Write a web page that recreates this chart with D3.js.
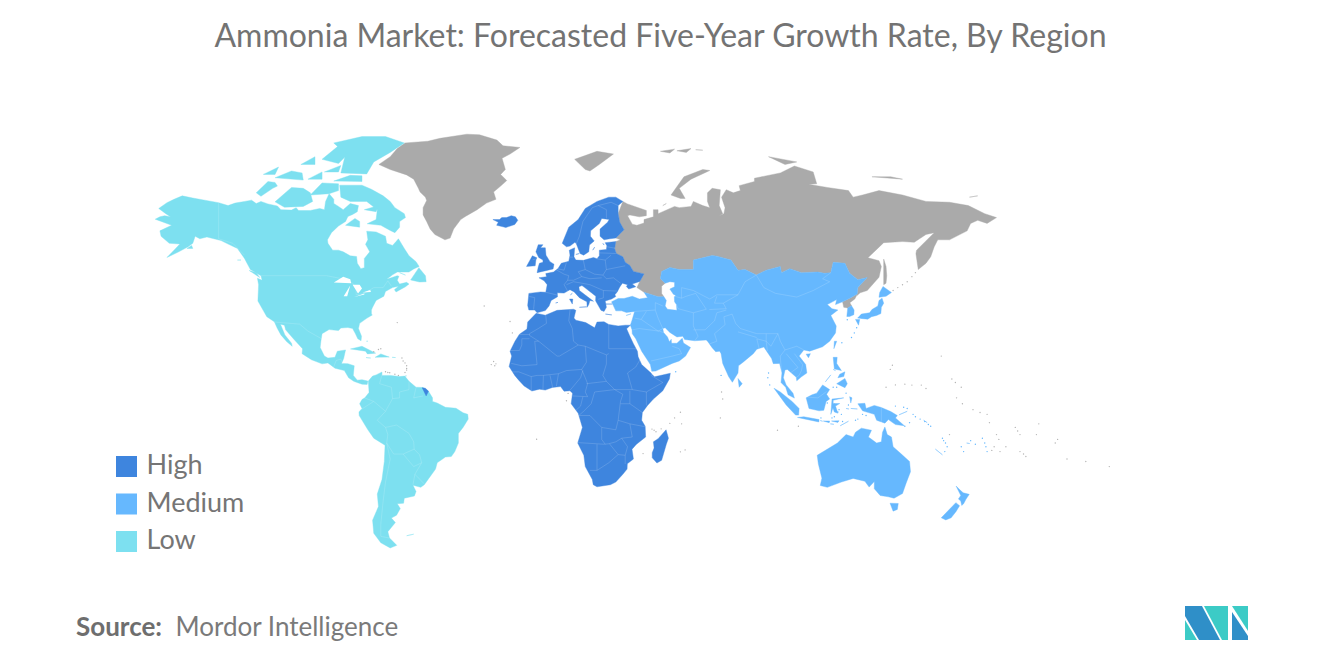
<!DOCTYPE html>
<html>
<head>
<meta charset="utf-8">
<title>Ammonia Market</title>
<script src="https://cdn.jsdelivr.net/npm/d3@7"></script>
<style>
  html, body { margin: 0; padding: 0; background: #fff; }
  svg { display: block; font-family: Lato, "Open Sans", sans-serif; }
</style>
</head>
<body>
<div id="chart-area"></div>
<script>
// chart text
var chartTitle = "Ammonia Market: Forecasted Five-Year Growth Rate, By Region";
var legendLabels = ["High", "Medium", "Low"];
var sourceLabel = "Source:";
var sourceName = "Mordor Intelligence";

// land outlines as [lon, lat]
var lowLand = [
  // north america mainland
  [[-168,65.6],[-166,66.2],[-164,66.5],[-161.5,66.2],[-163.5,67],[-166.5,68.3],[-163,69.7],[-160,70.5],[-156.5,71.3],[-152,70.8],[-148,70.4],[-141,69.7],[-137,69],[-134,69.6],[-130,70],[-127,70.3],[-125,69.5],[-123,70],[-120,69.4],[-116,68.9],[-114.5,68],[-110,67.9],[-108,68.5],[-107,67.8],[-102,67.8],[-98,68.3],[-96,68],[-95.5,70],[-94,71.8],[-92,70.5],[-92,69.5],[-90,68.8],[-88,68],[-85,69.5],[-81.5,69],[-82,67.5],[-84,66.8],[-86,66.3],[-87,65],[-90,63.8],[-93,62],[-94.7,60],[-94.5,59],[-92.5,57],[-90,57],[-88,56.5],[-85,55.3],[-82.3,55.1],[-82,53],[-80.5,51.3],[-79,51.6],[-79,54.5],[-76.7,56.5],[-78.5,58.7],[-77.5,60],[-78,62.4],[-74,62.2],[-70,61],[-69.5,59],[-67,58.4],[-65.5,59.5],[-64.5,60.3],[-62,57.5],[-60,55.3],[-57,53.5],[-55.7,52],[-58,51.2],[-60,50.2],[-65,50.2],[-67,49.3],[-69.5,47.8],[-65,49],[-64.3,48.8],[-65,47.5],[-64,46.2],[-61,46.8],[-60,46.2],[-61.5,45.3],[-65.5,43.5],[-66.2,44.3],[-64.5,45.5],[-67,45],[-70,43.7],[-70.7,42],[-74,40.5],[-75.5,38],[-76,37],[-76,35.5],[-75.6,35.2],[-78,33.9],[-81,32],[-81.5,30],[-80.2,27],[-80.4,25.2],[-81.8,26],[-82.8,28],[-84,30],[-86,30.4],[-89,30.2],[-90,29.2],[-94,29.6],[-97,28],[-97.5,25],[-97.8,22.5],[-96,19],[-94.5,18.2],[-91.5,18.5],[-90.5,21],[-87,21.5],[-87.8,18],[-88.7,16],[-86,15.9],[-83.3,15],[-83.7,11],[-82,9],[-80,9.2],[-77.5,8.6],[-77.8,7.2],[-80,7.3],[-81.5,7.8],[-83.5,8.5],[-85.7,10],[-87.5,13],[-91.5,14],[-94.5,16.2],[-97,15.8],[-101.5,17.5],[-105.5,20],[-105.3,22],[-109,25.8],[-112.5,29.5],[-113,31.3],[-114.7,31.7],[-112.8,27.5],[-110,24.2],[-109.7,23],[-112,24.8],[-114.5,27.5],[-116,30],[-117.3,32.6],[-120.5,34.5],[-122,36.8],[-124.3,40.3],[-124,46],[-124.5,48.2],[-122.5,47.5],[-123,49],[-127.5,51],[-130,54.5],[-133,57.5],[-137,58.8],[-140,59.8],[-146,60.8],[-149,60.3],[-151,61],[-152,59],[-154,58],[-158,56.5],[-163,54.8],[-160,57],[-157.5,58.8],[-162,59],[-165.5,61],[-166,62.5],[-161,64],[-165,64.5]],
  // arctic islands
  [[-80,73.7],[-76,72.8],[-71,71.3],[-68,70],[-66,68.5],[-62,67],[-61.5,66],[-64,65],[-64,63.5],[-66,62],[-68,62.6],[-72,64],[-77.8,64.4],[-74,65.5],[-73.5,68],[-78,70],[-85,70],[-89,71],[-89.5,73.7],[-85,73.5]],
  [[-117,69.9],[-113,68.6],[-105,68.8],[-101,70],[-102,72],[-105,73],[-110,73.2],[-118,72.8]],
  [[-125,72],[-123,71.2],[-118,73],[-116,73.5],[-117,74.3],[-120,74.5],[-124.5,74.2]],
  [[-87,64],[-81,63.5],[-81,65],[-83,65.8],[-86,66]],
  [[-117,75.3],[-105,74.8],[-105.5,76.3],[-110,76.7],[-116,76.7]],
  [[-102,71.5],[-94,71.8],[-90,72.5],[-90,74],[-97,74.2],[-100,73.5]],
  [[-92,74.6],[-80,74.5],[-80,75.7],[-85,75.8],[-92,76.6]],
  [[-89,76.3],[-78,76.1],[-75,78.5],[-68,80.3],[-62,82],[-70,83.1],[-80,83.1],[-92,82],[-87,80],[-90,78]],
  [[-97,79],[-90,78.2],[-86,80],[-90,81.5],[-96,81]],
  [[-103,75],[-97,75],[-97,76.5],[-104,76.7]],
  [[-122,76],[-117,76],[-115.5,77.5],[-120,77.5]],
  [[-106,78],[-100,78],[-100,79.5],[-104,79.5]],
  [[-96,76.5],[-90,76.5],[-89,77.8],[-96,77.8]],
  [[-79,68],[-74,67.5],[-73,69],[-77,69.5]],
  [[-59.3,47.6],[-55.5,46.9],[-52.7,47],[-53,49],[-55.8,51.6],[-57.5,50]],
  [[-128,50.7],[-125,50],[-123.5,48.4],[-125.5,48.8]],
  [[-133,54],[-131.5,54],[-131.5,52.5]],
  [[-64,50],[-61.5,49.2],[-64,49.1]],
  [[-154.5,57.5],[-152.5,58.4],[-152,57.5],[-154,56.8]],
  [[-84.9,21.9],[-80,23],[-74.2,20.2],[-77.7,19.9],[-78.5,21],[-82,22.3]],
  [[-74.4,18.5],[-72,19.9],[-68.4,18.6],[-71.5,17.7]],
  [[-78.3,18.4],[-76.3,18.2],[-77.2,17.8]],
  [[-67.2,18.5],[-65.7,18.4],[-67,18]],
  [[-78.1,25],[-77.5,25],[-77.7,24]],
  [[-61.7,10.7],[-61,10.8],[-61,10.1]],
  // south america
  [[-77.3,8.6],[-75.5,10.7],[-74,11.2],[-71.5,12.4],[-71.5,11],[-68,11],[-64,10.5],[-61.8,10.7],[-60,8.5],[-57,6],[-54,5.9],[-51.7,4.3],[-50,1.5],[-50,0],[-48,-0.7],[-44.5,-2.5],[-40,-2.9],[-37,-4.8],[-35,-5.5],[-34.8,-7.5],[-37,-11],[-39,-13.5],[-39,-17.5],[-40.5,-21],[-42,-23],[-44.5,-23.2],[-48,-25.5],[-48.7,-28],[-51.5,-31.5],[-53.5,-34],[-55,-35],[-58.3,-34.2],[-57,-36.5],[-57.7,-38.2],[-62,-39],[-62.3,-40.8],[-65,-41],[-63.7,-42.7],[-65.3,-45],[-67.5,-46],[-65.8,-47.5],[-69,-50.5],[-68.3,-52.5],[-65.2,-54.8],[-68,-55.6],[-72,-54],[-75,-51],[-75.5,-46.7],[-73,-42],[-73.5,-37.5],[-71.5,-32],[-70.5,-25],[-70.2,-18.4],[-75,-15.5],[-77.5,-12],[-81.2,-6],[-81.3,-4.5],[-80,-3],[-81,-1],[-80,0.8],[-78.8,1.5],[-77,3.8],[-77.5,7.2]],
  [[-61,-51.8],[-58,-51.3],[-58.5,-52.3]]
];

var highLand = [
  // africa
  [[-5.9,35.8],[-2,35.1],[3,36.9],[10,37.3],[11,36.9],[10.2,34],[11,33.2],[15.2,32.3],[19,30.3],[20,32.5],[23,32.6],[25,31.6],[29,31],[32,31.3],[34.2,31.3],[32.6,29.9],[34,27],[35.5,24],[37.2,21],[37.5,18.7],[39,15.5],[43,12],[43.3,11.5],[44.5,10.4],[51.2,11.9],[50.8,9.5],[48,4.5],[44,1],[41.5,-1.7],[39.3,-4.7],[39,-8],[40.5,-10.5],[40.7,-15],[36.8,-18],[34.9,-20],[35.5,-24],[32.9,-25.9],[32.8,-28],[31,-30],[28,-33],[25.7,-34],[20,-34.8],[18.4,-34],[18,-32],[15,-27],[14.4,-22.5],[11.8,-17.5],[13.8,-11],[12,-5],[9,-1],[9.6,3.5],[8.5,4.5],[6,4.3],[4.5,6.3],[1,5.9],[-2,4.8],[-4.5,5.2],[-7.7,4.4],[-11,6.5],[-13.3,9],[-15,11],[-17.4,14.7],[-16.3,19],[-17,21],[-14.9,25],[-13,27.8],[-9.8,29.8],[-9.5,32.5],[-6.7,34.2]],
  [[49.4,-12],[50.4,-15.5],[49.5,-18],[47.5,-24.5],[45.5,-25.6],[43.5,-23.5],[43.5,-21.5],[44.3,-19.5],[44,-17],[46,-15.7],[48,-13.5]],
  // europe
  [[-9,43],[-4,43.5],[-1.8,43.4],[-1.2,46],[-2.5,47.3],[-4.7,48.3],[-1.5,48.7],[-1.8,49.7],[1.5,50.2],[3.5,51.4],[4.8,53],[8,53.6],[8.5,55.5],[8.2,57],[10.5,57.7],[10.2,55],[11,54],[14.2,53.9],[18.5,54.8],[20,54.4],[21,55.3],[21,57],[24,57.2],[24.2,58.3],[23.5,59.2],[28,59.5],[27.5,57.5],[28.2,56],[31,55],[32,53.3],[34,52.3],[35.5,50.4],[40,49.6],[38.2,47.1],[35,46.2],[36.5,45.3],[33.5,44.5],[32.5,45.4],[33,46],[30.8,46.5],[29.7,45.2],[28.6,43.5],[27.6,42.5],[28,41.9],[26.2,41],[23.5,40.3],[24,38],[23,36.5],[21.7,36.9],[19.4,40.4],[19.5,42],[14.5,45.2],[13.6,45.7],[12.3,45.3],[12.5,44],[16,41.8],[18.5,40.2],[17,40.5],[16.5,39],[15.8,38],[15.7,40],[12.5,41.5],[10.3,43.5],[8.5,44.3],[6,43.1],[3.1,43.2],[3.2,41.8],[0.5,40.5],[-0.4,38.5],[-2,36.8],[-5.5,36],[-6.5,37],[-9,37],[-9.5,38.7],[-8.8,41.5]],
  // scandinavia
  [[5.2,59],[7,58],[8.5,58.2],[10.6,59.3],[11.2,58.9],[12.8,56],[14.3,55.5],[16.5,56.5],[16.8,58.5],[18.8,59.7],[17.2,61],[17.3,62.5],[21,64.5],[22,65.8],[25.2,65.5],[24.5,64.8],[21.3,63],[21.3,61],[23,60],[25.5,60.3],[28,60.5],[31.5,62.8],[29.7,64.8],[29,67],[29,69],[31,70],[28,71],[25,71],[20,70],[15,68.3],[12,65.5],[8,63.5],[5,62]],
  [[-5.5,50],[1.3,51.2],[1.7,52.7],[0,53.5],[-1.7,55.5],[-2,57.7],[-4,57.7],[-3,58.6],[-5,58.6],[-6,56.5],[-4.8,54.8],[-3,54],[-3,53.3],[-4.5,53],[-5,51.8],[-3,51.3]],
  [[-10,52],[-6.3,52.2],[-6,54],[-5.6,54.7],[-7.5,55.3],[-10,54.2]],
  [[-24.3,65.5],[-22,64.8],[-22.7,64],[-20,63.6],[-18.8,63.4],[-15,64.2],[-13.7,65.3],[-14.7,66.2],[-16.5,66.5],[-18.5,66],[-20.5,66],[-21.5,65.5],[-22.5,66.4]],
  [[12.5,38],[15.6,38.2],[15.1,36.7]],
  [[8.3,41],[9.7,41],[9.5,39.2],[8.5,39]],
  [[8.7,42.5],[9.5,43],[9.3,41.5]],
  [[23.6,35.5],[26.3,35.2],[24.8,34.9]],
  [[11,55.7],[12.5,56],[12.3,55]],
  [[18.2,57],[19,57.9],[18.7,57]],
  [[2.4,39.6],[3.4,39.8],[3,39.3]],
  [[22.5,59],[23,58.5],[22,58.3]],
  [[23.5,39.2],[26.5,39.2],[26,38.2]],
  // french guiana
  [[-54.4,5.8],[-53,5.6],[-51.7,4.3],[-52.7,2.3],[-54.4,2.3]]
];

var mediumLand = [
  // asia mainland
  [[26.2,40],[29,41.2],[31.5,41.2],[35,42],[38,41],[41.5,41.5],[40,43.4],[46,41.8],[48.5,41.8],[49.5,40.5],[49,38.5],[50,37.3],[54,36.9],[53.8,39],[53,40],[52.9,41.8],[53.5,42.3],[52.5,42.7],[51,44.5],[53,45.3],[53,46.8],[51,47],[49,46.5],[47,48],[47.5,50.4],[51,51.7],[55,51],[61,51],[61,54],[69,55.4],[71,55.2],[77,54],[80,50.8],[83,51],[87.8,49.2],[92,50.8],[98,52],[98.5,50],[102,51.3],[107,50],[114,50.2],[116.7,49.8],[119.5,50],[120.5,53.3],[125.5,53],[127.5,49.8],[131,47.7],[135,48.4],[131,45],[130.7,42.8],[128,41.5],[124.5,40],[121.5,39],[122,40.8],[118,39],[120,37.5],[122.5,37],[119.5,35],[121.8,31],[121.5,28.3],[119,25],[116,22.8],[110.5,21],[108,21.5],[106,19],[108.8,15.5],[109.3,12],[107,10.4],[105,8.7],[104.8,10.2],[102.5,12.2],[101,13.5],[100,13.3],[99.3,10],[100.5,7],[103.4,3.5],[104,1.4],[101.3,2.8],[100.3,6],[98.3,8],[98.7,12],[97.7,16],[95,15.9],[94.3,18],[92.2,21],[91,22.7],[88,21.8],[86.5,20],[82.3,16.6],[80.2,15],[80,12],[77.6,8.1],[76,10.5],[73.5,16],[72.8,20],[72.2,21],[70.5,20.8],[69,22.4],[67.2,24.8],[66.5,25.5],[61.6,25.2],[57.3,25.7],[56.5,27],[54,26.7],[51,28.5],[49,30.3],[48,30],[48.3,28.5],[50,26.7],[50.8,24.8],[51.6,25.8],[51.7,24.2],[54,24.2],[56.3,26.2],[56.8,24.3],[59.8,22.5],[57.7,19],[55,17],[52,16],[45,12.8],[43.3,12.7],[42.7,15.5],[39,21],[36.5,26],[35,28],[34.9,29.5],[34.2,31.3],[35,33.5],[36,36.5],[32.5,36.1],[30.5,36.7],[28,36.7],[26.5,38.5]],
  [[80,9.7],[81.8,7.5],[80.5,6],[79.8,7.5]],
  [[32.4,35],[34.5,35.6],[33.5,34.7]],
  // japan, korea, taiwan
  [[130.9,34],[132.5,35.5],[136,36],[137,37.2],[139.5,38.5],[140,40.5],[141.3,41.3],[142,39.5],[141,38],[140.8,35.7],[139,35],[136.8,34.5],[135.2,33.6],[133,34.2]],
  [[130,33.5],[131.8,33.5],[131.3,31.3],[130.2,31.3]],
  [[132.5,34],[134.5,34.2],[133.5,33]],
  [[140,41.6],[140.3,43.3],[141.7,45.4],[145.3,43.3],[143,42],[141,42.5]],
  [[126.7,37.8],[128.3,38.6],[129.4,37],[129.3,35.3],[127.5,34.6],[126.3,34.6],[126.6,36.7]],
  [[121,25],[122,25],[120.8,22],[120.2,23]],
  [[109,19.8],[110.8,20],[110,18.3],[108.7,18.8]],
  // south east asia
  [[120.5,18.5],[122.2,18.5],[122,16],[124,13],[121,13.7],[120,16]],
  [[122,7.5],[125.5,9.7],[126.5,7.5],[125.5,5.8],[124,6.5]],
  [[117.2,8.3],[119.5,11.2],[119,10]],
  [[122.5,10],[123.3,11.5],[125.5,12.5],[125,10.5],[123.5,9.5]],
  [[120.5,13.5],[121.5,13],[121,12.3]],
  [[109,1.5],[111.5,2.8],[113.5,3.5],[116,7],[119,5],[117.7,3],[119,1],[117.5,0],[116.5,-3.8],[114.5,-4],[110.2,-3],[109,0]],
  [[95.3,5.6],[98,4],[103,0],[106,-3],[105.8,-5.8],[104.5,-5.8],[100.5,-1.5],[97,3]],
  [[105.3,-6.8],[108,-6.5],[114.5,-7.7],[114.4,-8.7],[108,-7.8]],
  [[119.5,-5.5],[120.4,-2.8],[121,-4.5],[122.5,-5],[121.5,-2],[123.3,-0.9],[120.5,-0.9],[120.5,0.5],[125,1.5],[120,1],[119,-2]],
  [[127.5,2],[128.5,1.5],[128,-0.7],[127.7,0.5]],
  [[128,-3],[130.8,-3.2],[129.5,-3.5]],
  [[126,-3],[127.2,-3.2],[126.5,-3.8]],
  [[115,-8.1],[116,-8.4],[115,-8.8]],
  [[116.3,-8.3],[119,-8.3],[118.8,-9],[116.3,-9]],
  [[119.8,-8.3],[123,-8.2],[122.5,-8.9],[120,-8.9]],
  [[119.3,-9.5],[120.8,-9.7],[120.3,-10.2]],
  [[123.5,-10.3],[127,-8.4],[125,-9.5]],
  [[131,-1],[134,-0.8],[134.5,-3],[138,-1.7],[141,-2.6],[145,-4.3],[147.8,-6],[147,-7],[150.8,-10.3],[147,-9.8],[144,-7.7],[142.5,-9.2],[139,-8],[138,-5.5],[133,-4],[132,-2.5]],
  [[148.5,-5.7],[152,-4.2],[151.5,-5.7]],
  [[159,-8],[160.5,-9],[159.8,-9.5]],
  [[164,-20],[167,-22.3],[166,-22.2]],
  [[177.3,-17.5],[178.6,-17.7],[178,-18.3]],
  // australia and new zealand
  [[113.7,-22.5],[114.2,-26],[115.7,-31.5],[115,-34.3],[118,-35],[124,-33],[129,-31.6],[134,-32.7],[135.8,-34.9],[138,-32.8],[138,-35.5],[140.5,-38],[144,-38.5],[146.4,-39],[150,-37.3],[151.5,-33.5],[153.4,-29],[153,-25],[149.5,-22],[146,-19],[145.3,-15],[143.5,-14],[142.5,-10.8],[141.5,-13],[141,-17],[139,-17.5],[135.5,-15],[136.8,-12.2],[132.5,-11.3],[130,-13],[129,-15],[126,-14],[122.3,-17.5],[119,-20]],
  [[144.7,-40.8],[148.2,-40.9],[147.8,-43],[146,-43.6],[145.3,-42]],
  [[172.8,-34.5],[174.5,-36],[175.8,-37],[178.4,-37.6],[177,-39.4],[176,-41],[175.2,-41.6],[174.8,-40],[173.8,-39.3],[174.8,-38],[174.5,-36.8]],
  [[172.7,-40.6],[174.3,-41.7],[172.8,-43.7],[170.7,-45.9],[168.4,-46.6],[166.5,-45.9],[170,-43]]
];

var noDataLand = [
  // greenland
  [[-72.8,78],[-68,77],[-61,75.9],[-58,75],[-56,73],[-55.3,72.2],[-53,71],[-52.5,70.2],[-54,68.5],[-54,66.7],[-52.5,65],[-51,63],[-49,61.5],[-44.7,60],[-42.5,60.5],[-41,63],[-38,65.5],[-36,66.3],[-31,68],[-27,69.6],[-23,70.5],[-24,72.2],[-21,73.5],[-18.4,74.7],[-21,76],[-19,77],[-20.4,79.2],[-17,80],[-12.8,81.2],[-20,81.5],[-22.6,82.5],[-30,83.4],[-35.4,83.5],[-46.8,82.8],[-52,82.3],[-61.7,82],[-65,81],[-68,79.5],[-66,78.8]],
  // russia
  [[31,70],[33,69.4],[41,67.8],[41,66.5],[38,66.2],[34,66.7],[33,66.5],[35,64.3],[37,64],[40,64.6],[40,65.5],[44,66.2],[44,68],[46,68],[46,67],[53,68.8],[55,68.5],[60,68.8],[61,70],[65,69],[68,68.5],[67,70],[67,72],[69,73],[72.5,72.7],[72,69],[73.5,67],[72,66.5],[74,67],[74.5,68.5],[73,71],[75,72.7],[78,72],[81,72.5],[80.5,73.6],[87,74.5],[87,75.2],[98,76.3],[104,77.7],[112,76.5],[113.5,74],[110,73.9],[118,73.2],[127,72.5],[129,71],[133,71.5],[140,72.5],[150,71.5],[160,70],[170,69.8],[178,69],[185,67],[190,66],[186,64.5],[182,65.3],[179,64.5],[177.5,62.5],[170,60],[165,60],[163.5,58],[162,55],[160,53],[156.7,51],[155.7,56],[156,57],[163.5,62],[160,61.5],[155,59.3],[150,59.5],[142,59.2],[135.3,54.7],[140,53.8],[141,52],[140,48.5],[135,44],[132,43.2],[130.7,42.3],[130.7,42.8],[131,45],[135,48.4],[131,47.7],[127.5,49.8],[125.5,53],[120.5,53.3],[119.5,50],[116.7,49.8],[114,50.2],[107,50],[102,51.3],[98.5,50],[98,52],[92,50.8],[87.8,49.2],[83,51],[80,50.8],[77,54],[71,55.2],[69,55.4],[61,54],[61,51],[55,51],[51,51.7],[47.5,50.4],[47,48],[49,46.5],[47.5,45.5],[47.5,43],[48.5,41.8],[46,41.8],[40,43.4],[37,45],[38.2,47.1],[40,49.6],[35.5,50.4],[34,52.3],[32,53.3],[31,55],[28.2,56],[27.5,57.5],[28,59.5],[30,60],[28,60.5],[31.5,62.8],[29.7,64.8],[29,67],[29,69]],
  // north korea
  [[124.5,40],[128,41.5],[130.7,42.8],[130.5,42.3],[129.7,41],[127.6,39.7],[128.3,38.6],[126.7,37.8],[125,38],[125.3,39.5]],
  [[142,54.3],[143,52],[143.3,49],[143,46.5],[142,46],[142,50]],
  [[51.5,71.5],[55.5,70.7],[57.5,70.7],[55,73],[60,75],[68,76.8],[65,77],[57,75.5],[53,73]],
  [[10.5,79],[15,77],[17,76.7],[21,78],[27,80],[20,80.5],[11,80]],
  [[47,80.5],[51,80.2],[53,80.9],[49,81.2]],
  [[54,80.6],[58,80.3],[60,81],[56,81.3]],
  [[62,80.8],[65,80.7],[64,81.2]],
  [[93,79.5],[100,78],[105,78.5],[100,81]],
  [[137,75.5],[145,75.5],[150,75],[142,73.8]],
  [[178.5,71],[182,71.3],[181,70.8]],
  [[48,69],[49.5,69.5],[50,68.8]]
];

// dots too small for an outline
var greyIslets = [[-65,32.3],[-24,16.8],[-25,15.5],[-23.5,15],[-23,15.8],[-16,28.3],[-17,32.7],[-28,38.5],[-5.7,-15.9],[7,0.3],[7.7,3.4],[43.4,-11.7],[44.3,-12.2],[45.1,-12.8],[55.5,-4.6],[56,-9.5],[57.5,-20.3],[55.5,-21.1],[39.6,-21.8],[47.3,-11.6],[51,-9.3],[53,-7],[73,4],[73.5,1],[72.5,-7],[105.7,-10.5],[96.8,-12.2],[166.5,19],[144.8,13.5],[145.7,15.2],[143,6],[147,7],[151,7.3],[154,6.9],[158,6.9],[160,5.5],[171,9.5],[172.5,8],[175,6],[173,1.5],[175.5,-1],[180,-3.5],[183,-4.7],[186,-5.5],[187,-9],[198,-11],[199,-12.5],[200,-14],[201.5,-22],[202.5,-23],[215,-17.5],[216,-16],[220,-24],[228,-25],[238,-27],[208,-9.5],[207,-14],[190,-14],[191,-16],[189,-19],[188,-20.5],[191.5,-21],[194,-19],[200,-21],[-75,20.8],[-73,21.7],[-72,22],[-63,18.2],[-62.5,17],[-61.7,16.2],[-61,15],[-61,13.9],[-61,13.2],[-61.7,12.2],[-70,12.5],[-69,12.2],[-68.2,12.1],[-66,11.5],[-64.5,11],[170,-14],[146,44],[148,45],[150,46],[152,47],[154,48.7],[155.5,50]];
var blueIslets = [[157.5,-7.5],[159.5,-8.5],[161,-9.8],[162,-10.5],[167,-15.5],[167.5,-16.5],[168.3,-17.5],[169,-19],[168,-21],[175,-19],[176,-21],[184,-15.5],[185,-17.5],[185.5,-19],[186,-21],[181,-18],[179,-16.5],[152,-3],[150.5,-2.5],[147,-2],[154.5,-5.5],[155.5,-6.5],[153,-9],[151,-10.5],[123,-3.5],[122.5,-4.5],[124,-5.5],[130,-8],[133,-5.5],[134.5,-6],[131,-7.5],[126,3.5],[127,-1.5],[118,-0.7],[120,-7],[124.5,-8.5],[121,-6.5],[115.3,-7],[122,6],[120.5,6],[121,-1.2],[128.3,26.5],[124.2,24.4],[129.5,28.3],[130.5,30.3],[126.5,33.4],[72.8,11],[93,12],[92.7,10],[93.5,7],[53.5,12.5],[146.5,-43]];

// faint national borders
var borderLines = [
  [[-1.8,35],[-1.5,32],[-5,30],[-8.7,28],[-8.7,27.3],[-4.8,25],[-6.5,25],[-5.5,15.5],[-12,15],[-16.5,16]],
  [[-13,27.7],[-8.7,27.7]],
  [[-8.7,26],[-12,26],[-12,23.5],[-13,21.3],[-17,21.3]],
  [[8.5,37],[8,33],[9.5,30],[10,25],[12,23.5],[4,19],[3,19],[-4.8,25]],
  [[25,31.6],[25,22],[37,22]],
  [[12,23.5],[15,23],[24,19.5],[24,15.7],[22.5,11],[24,8.5]],
  [[25,20],[24,19.5]],
  [[15,23],[15.5,16.5],[13.5,13.5],[15,10],[16,7.5],[15,4],[16,2],[9.8,2.3]],
  [[3.6,11.7],[7,13],[13.5,13.5]],
  [[2.7,6.4],[3.6,11.7],[-2.8,11],[-5.5,11],[-8,10.5],[-13.3,12.5],[-16.7,12.4]],
  [[8.6,4.8],[13,10],[14,13]],
  [[-3,5],[-2.8,11]],
  [[0,11],[1.1,6]],
  [[-8,4.5],[-8,10.5]],
  [[15.5,7.5],[24,8.5],[27.5,5],[35,5],[33,12],[36.5,14.5],[38.6,18]],
  [[35,5],[41,4],[48,8],[43,11]],
  [[41,4],[41,-1.7]],
  [[34,4.5],[34,-1],[39.3,-4.7]],
  [[12.2,-6],[17,-6],[22,-11],[28,-12],[29,-8],[29.5,-4],[30,0],[31,3],[27.5,5],[19,4],[17.5,-1],[14,-4.5],[12.2,-6]],
  [[30,-1],[34,-1]],
  [[14,2],[13,-2],[11,-3.8]],
  [[11.8,-17.3],[23,-18],[25,-17.8],[28,-17],[30.5,-15.5],[35,-15],[34,-9.5],[29,-8]],
  [[22,-11],[22,-16],[23.5,-18]],
  [[34,-9.5],[40.5,-10.7]],
  [[25.3,-17.8],[29,-22.2],[32,-22.5],[33,-19],[30.5,-15.5]],
  [[20,-18],[20,-28.5],[25,-25.5],[29,-22.2]],
  [[17,-28.5],[20,-28.5]],
  [[32,-22.5],[32,-26]],
  [[-1.8,43.4],[3.1,42.4]],
  [[-8.8,41.9],[-6.5,41.5],[-7,37.2]],
  [[2.5,51],[6,49.5],[8,49],[7.5,47.5],[6,46],[7.5,43.8]],
  [[14.2,53.9],[15,51],[12,50.3],[13.5,48.7],[10,47.5],[7.5,47.5]],
  [[7,53.3],[6,50.8],[3,51.3]],
  [[8.5,54.9],[9.8,54.9]],
  [[19.8,54.4],[23.5,54],[24,51],[22.5,49.2],[19,49.5],[15,51]],
  [[24,51],[32,52.2]],
  [[22.5,49.2],[24,48],[27,48.3],[30,46.5]],
  [[22.7,44],[28.5,43.8]],
  [[7,46],[10,47],[13.6,46.5],[17,46],[22.7,44],[22.7,41.4],[20.5,40.9]],
  [[13.5,48.7],[17,48],[22,48.3]],
  [[21,56.2],[28,56]],
  [[23.5,54],[26,55.5]],
  [[24.2,58],[27.5,57.6]],
  [[11.2,58.9],[12.5,61],[14,65],[18,68.5],[20.5,69]],
  [[24,65.8],[24,68],[20.5,69],[26,69.8],[29,69]],
  [[-7.4,54.1],[-6,54.3]],
  [[44.8,39.7],[44.8,37],[36,36.5]],
  [[44.8,39.7],[48,38.5]],
  [[44.8,37],[46,34],[48,30]],
  [[38.8,33.5],[46,29],[48,30]],
  [[35,29.5],[38,30],[46.5,29],[48,28.5]],
  [[36,34],[38.8,33.5],[41,36.5]],
  [[43,17],[52,19],[56,20],[55,22],[52,23]],
  [[61,36],[61,31],[63,27],[61.6,25.2]],
  [[53.8,39],[54.5,37.5],[61,36],[66.5,37.3],[62,43],[58,42],[56,41.3],[53,42]],
  [[56,41.3],[56,45],[61,44],[68,41],[71,42.5],[80,42.5],[83,47],[87.8,49.2]],
  [[71,42],[70,39.5],[73.7,39.5],[80,42.5]],
  [[67.8,37.2],[75,37.5],[73.7,39.5]],
  [[75,37],[71,36],[70,33],[66,29.5],[61,29.5]],
  [[68,24],[71,25],[70,28],[74.5,31.5],[74,34.5],[77.5,35.5]],
  [[77.5,35.5],[79,32],[81,30],[88,28],[92,28],[97,28],[98,25],[100,21.5],[105,23],[108,21.5]],
  [[80,28.7],[88,26.5]],
  [[88,26],[89,22]],
  [[88,26],[92,25],[92.5,21]],
  [[92,28],[92,25],[94,23],[97,28]],
  [[100,21.5],[98,19],[98.5,12]],
  [[104,20],[107.5,15.5],[107,13]],
  [[100.5,20],[102.5,17.7],[105.5,14.3],[102.5,12.2]],
  [[107,13],[106,11],[104.8,10.2]],
  [[87.8,49.2],[91,45],[96,43],[105,41.7],[112,44],[119,47],[116,48],[119.5,50]],
  [[141,-2.6],[141,-9.2]],
  [[109.6,1.8],[114,1.5],[117.7,4.2]],
  [[-123,49],[-95,49],[-88.5,48],[-84,46.5],[-82.5,45],[-82.5,42.5],[-79,43],[-75,45],[-71,45],[-69,47.3],[-67.5,45.5]],
  [[-141,69.7],[-141,60.3],[-135,59],[-130,55.5]],
  [[-117,32.5],[-106.5,31.7],[-103,29],[-97.2,26]],
  [[-92,14.6],[-91,17.2],[-89,17.8],[-88.2,15.7]],
  [[-71.5,11.5],[-72.5,7.5],[-67.5,6],[-67,1.2],[-70,-4.2],[-73.5,-8],[-70,-11]],
  [[-79,1.5],[-75,0],[-70,-4.2]],
  [[-80.3,-3.4],[-75,0]],
  [[-70,-11],[-65.3,-10],[-60,-13.5],[-58,-17],[-57.8,-20],[-62.5,-22],[-66.5,-22],[-69.5,-17.5],[-69,-14],[-70,-11]],
  [[-62.5,-22],[-58,-27],[-54.6,-25.5],[-55.5,-22.3],[-57.8,-20]],
  [[-69.5,-17.5],[-68,-24],[-70,-33],[-71,-40],[-72,-48],[-72,-52],[-68.5,-52.5]],
  [[-54.6,-25.5],[-57.5,-30],[-53.5,-33.7]],
  [[-58.3,-34],[-57.5,-30]],
  [[-60,8.5],[-60,5],[-64,4],[-64,1.5],[-67,1.2]],
  [[-57,6],[-58,1.5],[-54,2.3]]
];

// lakes cut out of the land
var lakes = [
  [[-92,46.7],[-88,48.7],[-85,47.8],[-84.6,46.5],[-87,46.5]],
  [[-87.8,42],[-86.3,42],[-85,45.7],[-87.5,45.5]],
  [[-84,46],[-81,46],[-80,44.7],[-81.7,43],[-83.5,44]],
  [[-83.3,41.7],[-79,42.6],[-79,43],[-83,42.2]],
  [[-79.8,43.3],[-76.2,43.5],[-76.5,44.2],[-79.5,43.8]]
];

var colours = { high: "#3e85de", medium: "#66b8fe", low: "#7de0f0", none: "#aaaaaa" };

var width = 1320, height = 665;

var svg = d3.select("#chart-area").append("svg")
    .attr("width", width)
    .attr("height", height);

// Miller projection, planar so that rings can cross the date line
var miller = function(lat) {
    return 1.25 * Math.log(Math.tan(Math.PI / 4 + 0.4 * lat * Math.PI / 180));
};
var xScale = d3.scaleLinear().domain([0, 180]).range([550, 973]);
var yScale = d3.scaleLinear().domain([0, 1]).range([401.4, 266.4]);
var projection = d3.geoTransform({
    point: function(lon, lat) { this.stream.point(xScale(lon), yScale(miller(lat))); }
});
var path = d3.geoPath(projection).pointRadius(0.7);

// Title
svg.append("text")
    .attr("x", 660.5)
    .attr("y", 47)
    .attr("text-anchor", "middle")
    .attr("font-size", 32)
    .attr("fill", "#737373")
    .text(chartTitle);

// one layer per class
function drawLand(rings, colour, name) {
    svg.append("g").attr("class", name)
        .selectAll("path")
        .data(rings)
        .enter().append("path")
        .attr("d", function(d) { return path({ type: "Polygon", coordinates: [d] }); })
        .attr("fill", colour)
        .attr("stroke", colour)
        .attr("stroke-width", 0.4)
        .attr("stroke-linejoin", "round");
}
drawLand(noDataLand, colours.none, "no-data");
drawLand(lowLand, colours.low, "low");
drawLand(mediumLand, colours.medium, "medium");
drawLand(highLand, colours.high, "high");

svg.append("path")
    .attr("class", "lakes")
    .attr("d", path({ type: "MultiPolygon", coordinates: lakes.map(function(d) { return [d]; }) }))
    .attr("fill", "#fff");

svg.append("path")
    .attr("class", "borders")
    .attr("d", path({ type: "MultiLineString", coordinates: borderLines }))
    .attr("fill", "none")
    .attr("stroke", "#fff")
    .attr("stroke-opacity", 0.25)
    .attr("stroke-width", 0.6);

svg.append("path")
    .attr("d", path({ type: "MultiPoint", coordinates: greyIslets }))
    .attr("fill", "#b5b5b5");
svg.append("path")
    .attr("d", path({ type: "MultiPoint", coordinates: blueIslets }))
    .attr("fill", colours.medium);

// Legend
var legendColours = [colours.high, colours.medium, colours.low];
var legendY = d3.scalePoint().domain(legendLabels).range([456, 531]);
var legend = svg.append("g").selectAll("g")
    .data(legendLabels)
    .enter().append("g")
    .attr("transform", function(d) { return "translate(116," + legendY(d) + ")"; });
legend.append("rect")
    .attr("width", 21)
    .attr("height", 21)
    .attr("fill", function(d, i) { return legendColours[i]; });
legend.append("text")
    .attr("x", 30.5)
    .attr("y", 18)
    .attr("font-size", 27)
    .attr("fill", "#757575")
    .text(function(d) { return d; });

// Source
svg.append("text")
    .attr("x", 76)
    .attr("y", 636)
    .attr("font-size", 26)
    .attr("font-weight", 700)
    .attr("fill", "#6e6e6e")
    .text(sourceLabel);
svg.append("text")
    .attr("x", 175.5)
    .attr("y", 636)
    .attr("font-size", 26)
    .attr("fill", "#7a7a7a")
    .text(sourceName);

// Logo
var logo = svg.append("g").attr("transform", "translate(1185,606)");
logo.append("path").attr("d", "M0,0 L17,0 L35,34 L14,34 L0,10 Z").attr("fill", "#2f8fc8");
logo.append("path").attr("d", "M0,14 L12,34 L0,34 Z").attr("fill", "#3ccbc6");
logo.append("path").attr("d", "M19,0 L43,0 L43,34 L37,34 Z").attr("fill", "#3ccbc6");
logo.append("path").attr("d", "M47,0 L63,0 L63,25 Z").attr("fill", "#3ccbc6");
logo.append("path").attr("d", "M47,6 L63,30 L63,34 L47,34 Z").attr("fill", "#2f8fc8");
</script>
</body>
</html>
